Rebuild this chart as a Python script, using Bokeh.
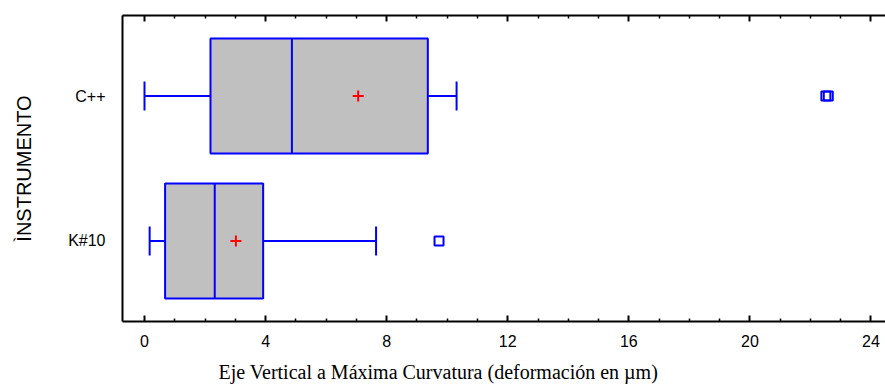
from bokeh.plotting import figure
from bokeh.models import (ColumnDataSource, FactorRange, Range1d, LinearAxis, FixedTicker,
                          Title, CustomLabelingPolicy)
from bokeh.embed import file_html
from bokeh.resources import INLINE

# ---- data ----
categories = ["C++", "K#10"]
whisker_low = [0.0, 0.17]
q1 = [2.18, 0.68]
median = [4.87, 2.32]
q3 = [9.36, 3.92]
whisker_high = [10.31, 7.65]
means = [7.06, 3.02]
outlier_cat = ["C++", "C++", "K#10"]
outlier_val = [22.51, 22.59, 9.73]
x_ticks = [0, 4, 8, 12, 16, 20, 24]
x_minor_ticks = [1, 2, 3, 5, 6, 7, 9, 10, 11, 13, 14, 15, 17, 18, 19, 21, 22, 23]
x_title = "Eje Vertical a Máxima Curvatura (deformación en µm)"
y_title = "ÌNSTRUMENTO"

BLUE = "#0000FF"
GRAY = "#C0C0C0"
RED = "#FF0000"
BOX_H = 0.794
CAP_H = 0.2

src = ColumnDataSource(dict(cat=categories, low=whisker_low, q1=q1, med=median,
                            q3=q3, high=whisker_high, mean=means))
out_src = ColumnDataSource(dict(cat=outlier_cat, val=outlier_val))

p = figure(width=885, height=392, output_backend="svg", toolbar_location=None,
           x_range=Range1d(-0.727, 24.48),
           y_range=FactorRange(factors=["K#10", "C++"], range_padding=0.056,
                               range_padding_units="absolute"),
           min_border_left=122, min_border_right=0, min_border_top=15,
           min_border_bottom=71, x_axis_type=None)
p.outline_line_color = None
p.xgrid.visible = False
p.ygrid.visible = False
p.background_fill_color = "white"
p.border_fill_color = "white"

ticker = FixedTicker(ticks=x_ticks, minor_ticks=x_minor_ticks)

xb = LinearAxis(ticker=ticker)
xb.axis_line_width = 2
xb.axis_line_color = "black"
xb.major_tick_in = 6
xb.major_tick_out = 0
xb.minor_tick_in = 3
xb.minor_tick_out = 0
xb.major_tick_line_width = 2
xb.minor_tick_line_width = 1.5
xb.major_label_text_font = "Liberation Sans"
xb.major_label_text_font_size = "16px"
xb.major_label_text_color = "black"
xb.major_label_standoff = 13
p.add_layout(xb, "below")

t = Title(text=x_title, text_font="Liberation Serif", text_font_size="20px",
          text_font_style="normal", text_color="black", align="left",
          offset=96, standoff=19)
p.add_layout(t, "below")

xt = LinearAxis(ticker=ticker)
xt.axis_line_width = 2
xt.axis_line_color = "black"
xt.major_tick_in = 6
xt.major_tick_out = 0
xt.minor_tick_in = 3
xt.minor_tick_out = 0
xt.major_tick_line_width = 2
xt.minor_tick_line_width = 1.5
xt.major_label_text_font_size = "1px"
xt.major_label_standoff = 0
xt.major_label_policy = CustomLabelingPolicy(
    code="for (const i of indices) { indices.unset(i) } return indices")
p.add_layout(xt, "above")

ya = p.yaxis[0]
ya.axis_line_width = 2
ya.axis_line_color = "black"
ya.major_tick_line_color = None
ya.minor_tick_line_color = None
ya.major_tick_out = 0
ya.major_label_text_font = "Liberation Sans"
ya.major_label_text_font_size = "16px"
ya.major_label_text_color = "black"
ya.major_label_standoff = 17
ya.axis_label = y_title
ya.axis_label_text_font = "Liberation Sans"
ya.axis_label_text_font_size = "20px"
ya.axis_label_text_font_style = "normal"
ya.axis_label_text_color = "black"
ya.axis_label_standoff = 30

# whiskers
p.segment(x0="low", y0="cat", x1="q1", y1="cat", source=src, line_color=BLUE, line_width=2)
p.segment(x0="q3", y0="cat", x1="high", y1="cat", source=src, line_color=BLUE, line_width=2)
# caps
p.hbar(y="cat", left="low", right="low", height=CAP_H, source=src,
       fill_color=None, line_color=BLUE, line_width=2)
p.hbar(y="cat", left="high", right="high", height=CAP_H, source=src,
       fill_color=None, line_color=BLUE, line_width=2)
# boxes
p.hbar(y="cat", left="q1", right="q3", height=BOX_H, source=src,
       fill_color=GRAY, line_color=BLUE, line_width=2)
# medians
p.hbar(y="cat", left="med", right="med", height=BOX_H, source=src,
       fill_color=None, line_color=BLUE, line_width=2)
# means
p.scatter(x="mean", y="cat", source=src, marker="cross", size=11,
          line_color=RED, line_width=2)
# outliers
p.scatter(x="val", y="cat", source=out_src, marker="square", size=9,
          fill_color="white", fill_alpha=0, line_color=BLUE, line_width=2)

open("out.html", "w").write(file_html(p, INLINE))
